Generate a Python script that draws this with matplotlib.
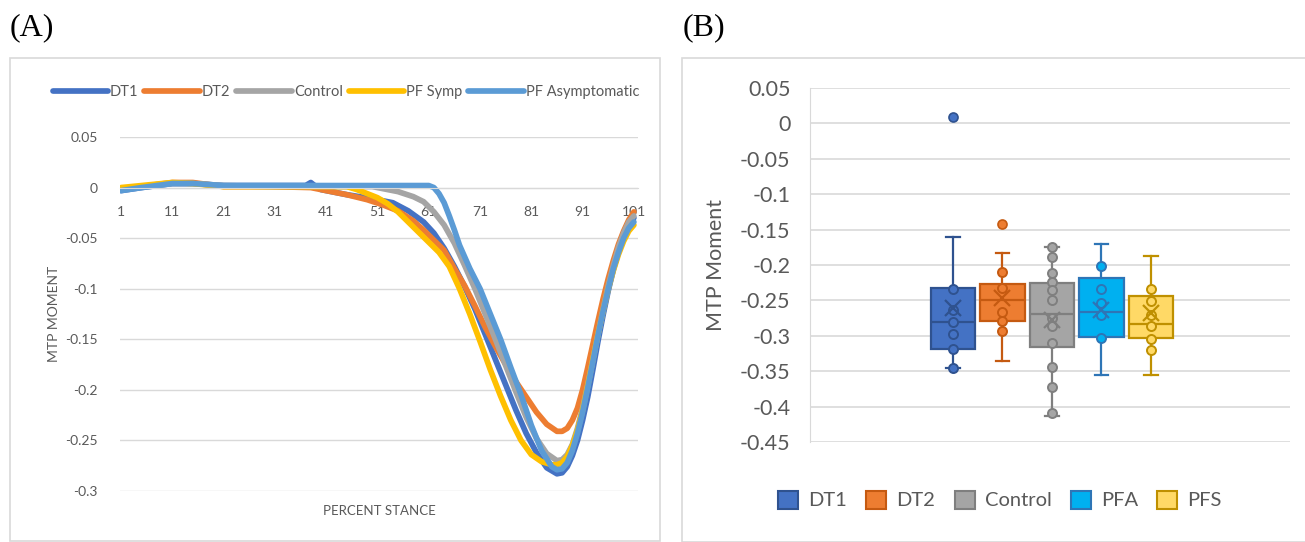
import numpy as np
import matplotlib
matplotlib.use("Agg")
import matplotlib.pyplot as plt
from matplotlib.patches import Rectangle, Patch

plt.rcParams['font.family'] = ['Lato', 'DejaVu Sans']

dt1_x = [1, 5, 11, 15, 21, 30, 37, 38, 39, 40, 45, 50, 54, 57, 60, 62, 64, 66, 68, 70, 72, 74, 76,
         78, 80, 82, 84, 86, 87, 88, 89, 90, 91, 92, 93, 94, 95, 96, 97, 98, 99, 100, 101]
dt1_y = [-0.003, 0.0, 0.004, 0.004, 0.002, 0.002, 0.002, 0.005, 0.001, -0.002, -0.007, -0.011,
         -0.015, -0.023, -0.034, -0.045, -0.06, -0.078, -0.098, -0.12, -0.145, -0.17, -0.195,
         -0.22, -0.243, -0.262, -0.277, -0.283, -0.282, -0.276, -0.265, -0.25, -0.23, -0.207,
         -0.18, -0.152, -0.126, -0.102, -0.081, -0.063, -0.048, -0.036, -0.03]

dt2_x = [1, 5, 11, 15, 21, 30, 38, 40, 45, 49, 52, 55, 58, 60, 62, 64, 66, 68, 70, 72, 74, 76, 78,
         80, 82, 84, 86, 87, 88, 89, 90, 91, 92, 93, 94, 95, 96, 97, 98, 99, 100, 101]
dt2_y = [-0.002, 0.001, 0.005, 0.005, 0.001, 0.001, 0.0, -0.002, -0.007, -0.012, -0.017, -0.023,
         -0.033, -0.042, -0.052, -0.062, -0.08, -0.097, -0.117, -0.138, -0.157, -0.175, -0.192,
         -0.207, -0.222, -0.234, -0.241, -0.241, -0.238, -0.23, -0.218, -0.2, -0.178, -0.155,
         -0.132, -0.11, -0.09, -0.072, -0.056, -0.043, -0.032, -0.024]

ctrl_x = [1, 5, 11, 15, 21, 30, 40, 50, 52, 55, 58, 60, 62, 64, 66, 68, 70, 72, 74, 76, 78, 80, 82,
          84, 86, 87, 88, 89, 90, 91, 92, 93, 94, 95, 96, 97, 98, 99, 100, 101]
ctrl_y = [-0.001, 0.001, 0.004, 0.004, 0.002, 0.001, 0.001, 0.001, -0.001, -0.004, -0.009, -0.014,
          -0.024, -0.037, -0.055, -0.077, -0.1, -0.125, -0.15, -0.176, -0.202, -0.227, -0.248,
          -0.263, -0.27, -0.269, -0.264, -0.254, -0.238, -0.218, -0.195, -0.17, -0.145, -0.12,
          -0.097, -0.077, -0.059, -0.045, -0.034, -0.028]

pfs_x = [1, 5, 11, 15, 21, 30, 40, 45, 47, 49, 51, 53, 55, 57, 59, 61, 63, 65, 67, 69, 71, 73, 75,
         77, 79, 81, 83, 85, 86, 87, 88, 89, 90, 91, 92, 93, 94, 95, 96, 97, 98, 99, 100, 101]
pfs_y = [0.0, 0.002, 0.005, 0.004, 0.001, 0.001, 0.001, 0.001, -0.002, -0.006, -0.01, -0.016,
         -0.024, -0.034, -0.044, -0.054, -0.064, -0.078, -0.1, -0.125, -0.152, -0.18, -0.206,
         -0.23, -0.25, -0.264, -0.271, -0.274, -0.274, -0.272, -0.266, -0.255, -0.24, -0.22,
         -0.196, -0.17, -0.145, -0.122, -0.1, -0.082, -0.066, -0.053, -0.043, -0.037]

pfa_x = [1, 5, 11, 15, 21, 30, 40, 50, 61, 62, 63, 64, 65, 66, 67, 69, 71, 73, 75, 77, 79, 81, 83,
         85, 86, 87, 88, 89, 90, 91, 92, 93, 94, 95, 96, 97, 98, 99, 100, 101]
pfa_y = [-0.003, 0.0, 0.004, 0.004, 0.002, 0.002, 0.002, 0.002, 0.002, 0.0, -0.006, -0.015,
         -0.028, -0.042, -0.057, -0.08, -0.1, -0.125, -0.15, -0.178, -0.205, -0.235, -0.26,
         -0.276, -0.279, -0.278, -0.272, -0.26, -0.243, -0.222, -0.198, -0.172, -0.146, -0.122,
         -0.1, -0.08, -0.064, -0.05, -0.04, -0.034]

line_labels = ['DT1', 'DT2', 'Control', 'PF Symp', 'PF Asymptomatic']
line_colors = ['#4472C4', '#ED7D31', '#A5A5A5', '#FFC000', '#5B9BD5']

# ---- panel B: box plot stats ----
groups = ['DT1', 'DT2', 'Control', 'PFA', 'PFS']
q1 = [-0.319, -0.279, -0.316, -0.301, -0.303]
med = [-0.281, -0.250, -0.269, -0.266, -0.283]
q3 = [-0.233, -0.227, -0.226, -0.219, -0.244]
whis_lo = [-0.346, -0.335, -0.413, -0.356, -0.355]
whis_hi = [-0.160, -0.183, -0.175, -0.170, -0.187]
means = [-0.261, -0.246, -0.278, -0.263, -0.268]
outliers = [[0.0094], [-0.142], [], [], []]
inner_points = [
    [-0.234, -0.263, -0.281, -0.298, -0.319, -0.345],
    [-0.210, -0.232, -0.267, -0.279, -0.293],
    [-0.175, -0.188, -0.212, -0.224, -0.235, -0.249, -0.275, -0.286, -0.310, -0.344, -0.373, -0.409],
    [-0.201, -0.234, -0.254, -0.271, -0.303],
    [-0.234, -0.251, -0.271, -0.286, -0.304, -0.320],
]
box_fill = ['#4472C4', '#ED7D31', '#A5A5A5', '#00B0F0', '#FFD966']
box_edge = ['#2F528F', '#C55A11', '#7F7F7F', '#2E75B6', '#BF9000']

text_col = '#595959'
grid_col = '#D9D9D9'

fig = plt.figure(figsize=(13.05, 5.42), dpi=100)

# panel frames
fig.add_artist(Rectangle((10 / 1305, 1 - 541 / 542), 650 / 1305, 483 / 542, transform=fig.transFigure,
                         fill=False, edgecolor=grid_col, linewidth=1.2))
fig.add_artist(Rectangle((682 / 1305, 1 - 542 / 542), 640 / 1305, 484 / 542, transform=fig.transFigure,
                         fill=False, edgecolor=grid_col, linewidth=1.2))
fig.text(10 / 1305, 1 - 28 / 542, '(A)', family='Liberation Serif', fontsize=23, va='center', ha='left')
fig.text(683 / 1305, 1 - 28 / 542, '(B)', family='Liberation Serif', fontsize=23, va='center', ha='left')

# ---------------- panel A ----------------
axA = fig.add_axes([120 / 1305, 1 - 491 / 542, 518 / 1305, 354 / 542])
series = [(dt1_x, dt1_y), (dt2_x, dt2_y), (ctrl_x, ctrl_y), (pfs_x, pfs_y), (pfa_x, pfa_y)]
for (xs, ys), lab, col in zip(series, line_labels, line_colors):
    axA.plot(xs, ys, color=col, lw=4.1, label=lab, solid_capstyle='round', solid_joinstyle='round')
axA.set_xlim(0.8, 101.8)
axA.set_ylim(-0.3, 0.05)
axA.set_yticks(np.arange(-0.3, 0.051, 0.05))
axA.set_yticklabels(['-0.3', '-0.25', '-0.2', '-0.15', '-0.1', '-0.05', '0', '0.05'])
axA.set_xticks(range(1, 102, 10))
axA.grid(axis='y', color=grid_col, lw=1)
axA.set_axisbelow(True)
for s in ['top', 'right', 'left']:
    axA.spines[s].set_visible(False)
axA.spines['bottom'].set_position(('data', 0))
axA.spines['bottom'].set_color(grid_col)
axA.tick_params(length=0, labelsize=10, colors=text_col, pad=13)
axA.tick_params(axis='y', pad=16)
axA.set_ylabel('MTP MOMENT', fontsize=10, color=text_col, labelpad=4)
axA.text(0.5, -0.04, 'PERCENT STANCE', transform=axA.transAxes, ha='center', va='top',
         fontsize=9.5, color=text_col)
axA.legend(loc='center', bbox_to_anchor=(346 / 1305, 1 - 92 / 542), bbox_transform=fig.transFigure,
           ncol=5, frameon=False, fontsize=10.5, handlelength=3.8, handletextpad=0.15,
           columnspacing=0.4, labelcolor=text_col)

# ---------------- panel B ----------------
axB = fig.add_axes([810 / 1305, 1 - 442 / 542, 480 / 1305, 354 / 542])
pos = np.arange(1, len(groups) + 1)
for i in range(len(groups)):
    st = dict(med=med[i], q1=q1[i], q3=q3[i], whislo=whis_lo[i], whishi=whis_hi[i],
              fliers=outliers[i], mean=means[i])
    ec = box_edge[i]
    axB.bxp([st], positions=[pos[i]], widths=0.9, patch_artist=True, showmeans=False,
            boxprops=dict(facecolor=box_fill[i], edgecolor=ec, linewidth=1.6),
            medianprops=dict(color=ec, linewidth=1.6),
            whiskerprops=dict(color=ec, linewidth=1.6),
            capprops=dict(color=ec, linewidth=1.6), capwidths=0.27,
            flierprops=dict(marker='o', markerfacecolor=box_fill[i], markeredgecolor=ec,
                            markersize=6.5, markeredgewidth=1.2))
    axB.plot([pos[i]] * len(inner_points[i]), inner_points[i], 'o', ms=6.5, mfc=box_fill[i],
             mec=ec, mew=1.4, zorder=4)
    axB.plot([pos[i]], [means[i]], 'x', ms=12, mec=ec, mew=1.6, zorder=5)

axB.set_xlim(-1.89, 7.81)
axB.set_ylim(-0.45, 0.05)
yt = np.arange(-0.45, 0.051, 0.05)
axB.set_yticks(yt)
axB.set_yticklabels(['-0.45', '-0.4', '-0.35', '-0.3', '-0.25', '-0.2', '-0.15', '-0.1', '-0.05', '0', '0.05'])
axB.set_xticks([])
axB.grid(axis='y', color=grid_col, lw=1.2)
axB.set_axisbelow(True)
for s in ['top', 'right', 'bottom']:
    axB.spines[s].set_visible(False)
axB.spines['left'].set_color(grid_col)
axB.tick_params(length=0, labelsize=15.5, colors=text_col, pad=14)
axB.set_ylabel('MTP Moment', fontsize=15.5, color=text_col, labelpad=10)

handles = [Patch(facecolor=f, edgecolor=e, linewidth=1.5) for f, e in zip(box_fill, box_edge)]
axB.legend(handles, groups, loc='center', bbox_to_anchor=(1000 / 1305, 1 - 500 / 542),
           bbox_transform=fig.transFigure, ncol=5, frameon=False, fontsize=14.5,
           handlelength=1.0, handleheight=1.0, handletextpad=0.5, columnspacing=0.95,
           labelcolor=text_col)

plt.savefig('out.png', dpi=100)
